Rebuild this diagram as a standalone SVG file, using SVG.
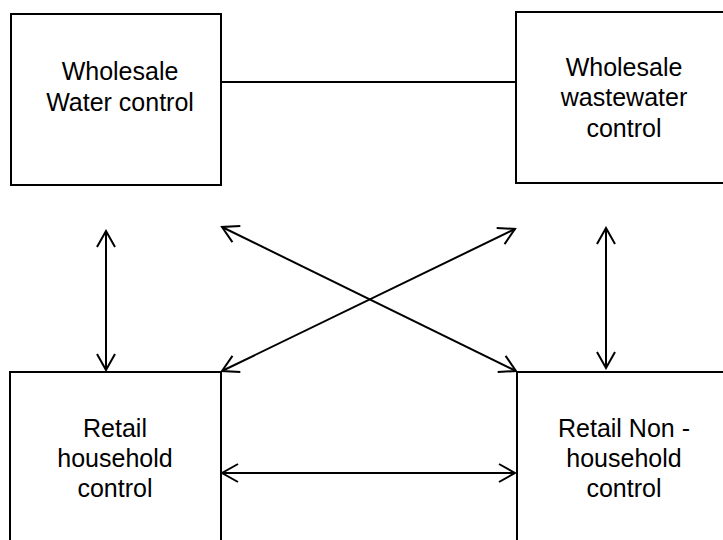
<svg xmlns="http://www.w3.org/2000/svg" width="723" height="540" viewBox="0 0 723 540">
<style>
.box{fill:#fff;stroke:#000;stroke-width:2}
.t{font-family:"Liberation Sans",Arial,sans-serif;font-size:25px;fill:#000;text-anchor:middle}
.c{stroke:#000;stroke-width:2;fill:none}
</style>
<defs>
<marker id="ah" viewBox="0 0 20 20" refX="18" refY="10" markerWidth="20" markerHeight="20" markerUnits="userSpaceOnUse" orient="auto-start-reverse">
<path d="M2,1 L18,10 L2,19" fill="none" stroke="#000" stroke-width="2"/>
</marker>
</defs>
<g id="connectors">
<line class="c" x1="221" y1="82" x2="516" y2="82"/>
<line class="c" x1="106" y1="231" x2="106" y2="370" marker-start="url(#ah)" marker-end="url(#ah)"/>
<line class="c" x1="606" y1="228" x2="606" y2="368" marker-start="url(#ah)" marker-end="url(#ah)"/>
<line class="c" x1="222" y1="227" x2="516" y2="371" marker-start="url(#ah)" marker-end="url(#ah)"/>
<line class="c" x1="222" y1="371" x2="515" y2="229" marker-start="url(#ah)" marker-end="url(#ah)"/>
<line class="c" x1="222" y1="473" x2="515" y2="473" marker-start="url(#ah)" marker-end="url(#ah)"/>
</g>
<g id="wholesale-water">
<rect class="box" x="11" y="14" width="210" height="171"/>
<text class="t" x="120" y="80">Wholesale</text>
<text class="t" x="120" y="111">Water control</text>
</g>
<g id="wholesale-wastewater">
<rect class="box" x="516" y="12" width="220" height="171"/>
<text class="t" x="624" y="76">Wholesale</text>
<text class="t" x="624" y="106">wastewater</text>
<text class="t" x="624" y="137">control</text>
</g>
<g id="retail-household">
<rect class="box" x="10" y="372" width="211" height="190"/>
<text class="t" x="115" y="437">Retail</text>
<text class="t" x="115" y="467">household</text>
<text class="t" x="115" y="497">control</text>
</g>
<g id="retail-non-household">
<rect class="box" x="517" y="372" width="220" height="190"/>
<text class="t" x="624" y="437">Retail Non -</text>
<text class="t" x="624" y="467">household</text>
<text class="t" x="624" y="497">control</text>
</g>
</svg>
